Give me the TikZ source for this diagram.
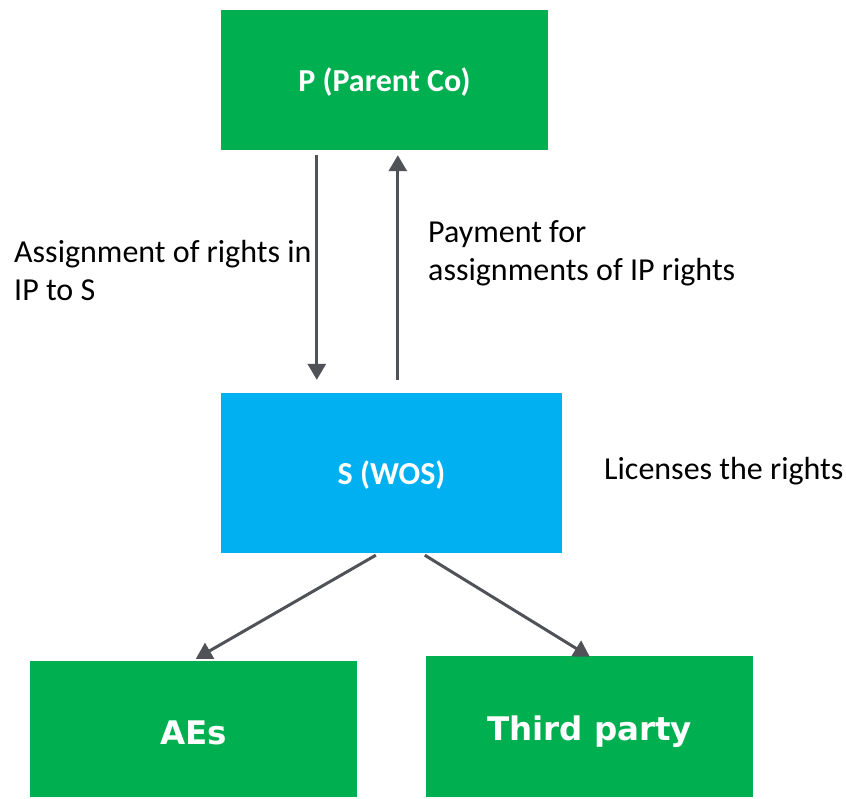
\documentclass[tikz,border=0pt]{standalone}
\usepackage{fontspec}
\setmainfont{Carlito}
\newfontfamily\widebold{DejaVu Sans}
\usetikzlibrary{arrows.meta,calc}
\definecolor{boxgreen}{RGB}{0,176,80}
\definecolor{boxblue}{RGB}{0,176,240}
\definecolor{linkgrey}{RGB}{80,82,88}
\begin{document}
\begin{tikzpicture}[x=1pt,y=-1pt,
  entity/.style={fill=#1,draw=none,inner sep=0pt,text=white},
  entitytext/.style={font=\fontsize{32}{36}\selectfont\bfseries,text=white},
  leaftext/.style={font=\widebold\fontsize{32.5}{38}\selectfont\bfseries,text=white},
  note/.style={font=\fontsize{32}{38}\selectfont,align=left,inner sep=0pt,anchor=west,text=black},
  link/.style={draw=linkgrey,line width=3pt,-{Triangle[length=16pt,width=18pt]}}]
  \useasboundingbox (0,0) rectangle (846,798);

  % entities
  \node[entity=boxgreen,minimum width=327pt,minimum height=140pt] (P) at (384.5,80) {};
  \node[entity=boxblue,minimum width=341pt,minimum height=160pt] (S) at (391.5,473) {};
  \node[entity=boxgreen,minimum width=327pt,minimum height=136pt] (AE) at (193.5,729) {};
  \node[entity=boxgreen,minimum width=327pt,minimum height=141pt] (TP) at (589.5,726.5) {};

  % box captions
  \node[entitytext] (Plabel) at ($(P.center)+(0,2)$) {P (Parent Co)};
  \node[entitytext] (Slabel) at ($(S.center)+(0,2)$) {S (WOS)};
  \node[leaftext] (AElabel) at ($(AE.center)+(0,4)$) {AEs};
  \node[leaftext] (TPlabel) at ($(TP.center)+(0,5)$) {Third party};

  % free ends of the links, just off the boxes
  \coordinate (downtop) at ($(P.south west)+(96,5)$);
  \coordinate (downtip) at ($(S.north west)+(96,-13)$);
  \coordinate (upfoot) at ($(S.north west)+(177,-13)$);
  \coordinate (uptip) at ($(P.south west)+(177,5)$);
  \coordinate (aefoot) at ($(S.south west)+(155,2)$);
  \coordinate (aetip) at ($(AE.north west)+(166,-2)$);
  \coordinate (tpfoot) at ($(S.south west)+(204,2)$);
  \coordinate (tptip) at ($(TP.north west)+(164,1)$);

  \draw[link] (downtop) -- (downtip);
  \draw[link] (upfoot) -- (uptip);
  \draw[link] (aefoot) -- (aetip);
  \draw[link] (tpfoot) -- (tptip);

  % annotations
  \node[note] (assign) at (14,271) {Assignment of rights in\\IP to S};
  \node[note] (pay) at (428,253) {Payment for\\assignments of IP rights};
  \node[note] (lic) at (604,471) {Licenses the rights};
\end{tikzpicture}
\end{document}
